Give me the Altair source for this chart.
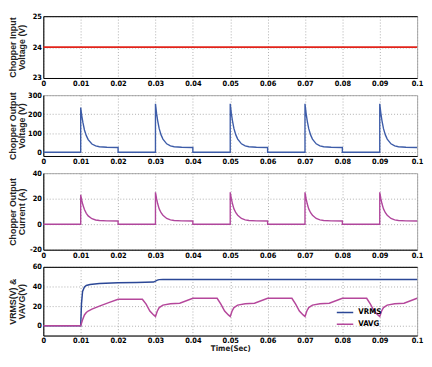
import altair as alt
import pandas as pd

# ---------------- data ----------------
x_ticks = [0, 0.01, 0.02, 0.03, 0.04, 0.05, 0.06, 0.07, 0.08, 0.09, 0.1]

vin_time = [0, 0.1]
vin_vals = [24, 24]

vout_time = [0, 0.01, 0.01, 0.0103, 0.0106, 0.011, 0.0115, 0.012, 0.013, 0.014, 0.015, 0.017, 0.02, 0.02,
             0.03, 0.03, 0.0303, 0.0306, 0.031, 0.0315, 0.032, 0.033, 0.034, 0.035, 0.037, 0.04, 0.04,
             0.05, 0.05, 0.0503, 0.0506, 0.051, 0.0515, 0.052, 0.053, 0.054, 0.055, 0.057, 0.06, 0.06,
             0.07, 0.07, 0.0703, 0.0706, 0.071, 0.0715, 0.072, 0.073, 0.074, 0.075, 0.077, 0.08, 0.08,
             0.09, 0.09, 0.0903, 0.0906, 0.091, 0.0915, 0.092, 0.093, 0.094, 0.095, 0.097, 0.1]
vout_vals = [0, 0, 235, 190, 155, 117, 87, 66, 43, 33, 28.5, 26, 25, 0,
             0, 255, 204, 165, 124, 91, 69, 44, 33, 28.5, 26, 25, 0,
             0, 255, 204, 165, 124, 91, 69, 44, 33, 28.5, 26, 25, 0,
             0, 255, 204, 165, 124, 91, 69, 44, 33, 28.5, 26, 25, 0,
             0, 255, 204, 165, 124, 91, 69, 44, 33, 28.5, 26, 25]

iout_time = vout_time
iout_vals = [0, 0, 23, 18.5, 15, 11.5, 8.5, 6.5, 4.3, 3.3, 2.9, 2.6, 2.5, 0,
             0, 25, 20, 16, 12, 9, 7, 4.5, 3.4, 2.9, 2.6, 2.5, 0,
             0, 25, 20, 16, 12, 9, 7, 4.5, 3.4, 2.9, 2.6, 2.5, 0,
             0, 25, 20, 16, 12, 9, 7, 4.5, 3.4, 2.9, 2.6, 2.5, 0,
             0, 25, 20, 16, 12, 9, 7, 4.5, 3.4, 2.9, 2.6, 2.5]

vrms_time = [0, 0.01, 0.0102, 0.0105, 0.011, 0.0115, 0.0125, 0.015, 0.02, 0.025, 0.0295, 0.0305, 0.031, 0.032, 0.1]
vrms_vals = [0, 0, 22, 35, 39.5, 41, 42, 43, 43.8, 44, 44.5, 46.5, 47, 47.2, 47.2]

vavg_time = [0, 0.01, 0.0105, 0.011, 0.0115, 0.012, 0.013, 0.015, 0.0175, 0.02, 0.0265,
             0.0275, 0.0285, 0.0295, 0.03, 0.0305, 0.031, 0.032, 0.034, 0.0365, 0.04, 0.0465,
             0.0475, 0.0485, 0.0495, 0.05, 0.0505, 0.051, 0.052, 0.054, 0.0565, 0.06, 0.0665,
             0.0675, 0.0685, 0.0695, 0.07, 0.0705, 0.071, 0.072, 0.074, 0.0765, 0.08, 0.0865,
             0.0875, 0.0885, 0.0895, 0.09, 0.0905, 0.091, 0.092, 0.094, 0.0965, 0.1]
vavg_vals = [0, 0, 6, 11, 13.5, 15, 17, 20, 23.5, 27, 27,
             22, 15, 11, 9.5, 15, 18.5, 21, 22.5, 23, 28, 28,
             22, 15, 11, 9.5, 15, 18.5, 21, 22.5, 23, 28, 28,
             22, 15, 11, 9.5, 15, 18.5, 21, 22.5, 23, 28, 28,
             22, 15, 11, 9.5, 15, 18.5, 21, 22.5, 23, 28]

# ---------------- styling ----------------
LFONT = "Liberation Sans Narrow, Arial Narrow, DejaVu Sans Condensed, sans-serif"
TFONT = "Liberation Sans, Arial, sans-serif"
W = 381

def frame(t, v, **extra):
    d = pd.DataFrame({"t": t, "v": v})
    d["i"] = range(len(d))
    for k, val in extra.items():
        d[k] = val
    return d

XS = alt.Scale(domain=[0, 0.1], nice=False, zero=False)

def xaxis(last=False):
    return alt.X("t:Q", scale=XS,
                 axis=alt.Axis(values=x_ticks, format="~g", title="Time(Sec)" if last else None,
                               labelFlush=False, labelOverlap=False))

def xtop():
    return alt.X("t:Q", scale=XS,
                 axis=alt.Axis(orient="top", labels=False, grid=False, ticks=False, title=None,
                               domainColor="#000", minExtent=0, maxExtent=0, labelPadding=0))

def yaxis(title, dom, vals):
    return alt.Y("v:Q", scale=alt.Scale(domain=dom, nice=False, zero=False),
                 axis=alt.Axis(values=vals, labelExpr="datum.value + ''", title=title,
                               minExtent=16, maxExtent=16, labelOverlap=False, labelBound=False))

y1 = yaxis(["Chopper Input", "Voltage (V)"], [23, 25], [23, 24, 25])
b1 = alt.Chart(frame(vin_time, vin_vals)).mark_line(color="#e2231a", strokeWidth=1.6)
p1 = alt.layer(
    b1.encode(x=xaxis(), y=y1, order="i:Q"),
    b1.mark_line(strokeOpacity=0).encode(x=xtop(), y=y1, order="i:Q"),
).resolve_scale(x="independent").properties(width=W, height=63)

p2 = alt.Chart(frame(vout_time, vout_vals)).mark_line(color="#3d5ca8", strokeWidth=1.4).encode(
    x=xaxis(), y=yaxis(["Chopper Output", "Voltage (V)"], [-20, 300], [0, 100, 200, 300]), order="i:Q"
).properties(width=W, height=62)

p3 = alt.Chart(frame(iout_time, iout_vals)).mark_line(color="#b0469c", strokeWidth=1.4).encode(
    x=xaxis(), y=yaxis(["Chopper Output", "Current (A)"], [-20, 40], [-20, 0, 20, 40]), order="i:Q"
).properties(width=W, height=78)

d4 = pd.concat([frame(vrms_time, vrms_vals, s="VRMS"), frame(vavg_time, vavg_vals, s="VAVG")])
y4 = yaxis(["VRMS(V) &", "VAVG(V)"], [-10, 60], [0, 20, 40, 60])
c4 = alt.Color("s:N", scale=alt.Scale(domain=["VRMS", "VAVG"], range=["#2b4796", "#b5479b"]),
               legend=alt.Legend(title=None, orient="none", legendX=298, legendY=297,
                                 symbolType="stroke", symbolSize=280, symbolStrokeWidth=1.5,
                                 clipHeight=10, labelFont=LFONT, labelFontSize=8,
                                 labelFontWeight="bold", rowPadding=2))
b4 = alt.Chart(d4).mark_line(strokeWidth=1.5)
p4 = alt.layer(
    b4.encode(x=xaxis(True), y=y4, color=c4, order="i:Q"),
    b4.mark_line(strokeOpacity=0).encode(x=xtop(), y=y4, detail="s:N", order="i:Q"),
).resolve_scale(x="independent").properties(width=W, height=70)

chart = alt.vconcat(p1, p2, p3, p4, spacing=17.5, bounds="flush").properties(
    padding={"left": 0, "top": 0, "right": 0, "bottom": 0}
).configure_axis(
    labelFont=LFONT, labelFontSize=7.5, labelFontWeight="bold", labelColor="#000",
    titleFont=TFONT, titleFontSize=9, titleFontWeight="bold", titleColor="#222", titleLineHeight=9,
    domainColor="#000", domainWidth=1, ticks=False, labelPadding=2,
    gridColor="#999", gridDash=[1, 2], gridWidth=0.8, titlePadding=1
).configure_axisX(titlePadding=0, titleFontSize=8, titleFont=LFONT, labelPadding=1.5
).configure_view(stroke="#aaa")

chart.save("out.html", embed_options={"renderer": "svg", "actions": False})
